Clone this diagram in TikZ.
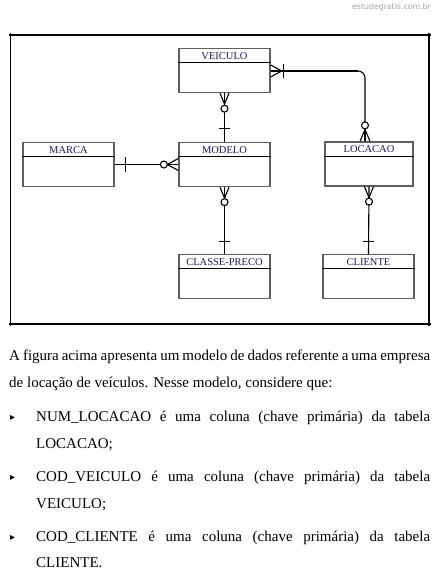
\documentclass[tikz,border=0pt]{standalone}
\usepackage{fontspec}
\setmainfont{Liberation Serif}
\newfontfamily\wmfont{DejaVu Sans}
\newfontfamily\symfont{DejaVu Sans}
\usetikzlibrary{calc}
\definecolor{boxgray}{RGB}{95,95,95}
\definecolor{lblblue}{RGB}{30,25,85}
\definecolor{wmgray}{RGB}{165,165,165}
\tikzset{
  entity/.style={draw=boxgray, line width=1.3pt, minimum width=91pt, minimum height=44pt, inner sep=0pt, fill=white},
  hdr/.style={draw=black, line width=0.8pt},
  lbl/.style={font=\fontsize{10.5}{11}\selectfont, text=lblblue, inner sep=0pt},
  rel/.style={draw=black, line width=1.1pt},
  ring/.style={draw=black, line width=1.1pt, fill=white},
  frameline/.style={draw=black, line width=1.1pt},
  body/.style={font=\fontsize{15}{17}\selectfont, inner sep=0pt, anchor=base west},
  bul/.style={font=\symfont\fontsize{10}{11}\selectfont, inner sep=0pt, anchor=base west},
}
\begin{document}
\begin{tikzpicture}[x=1pt,y=-1pt]
\useasboundingbox[fill=white] (0,0) rectangle (435,572);
% watermark
\node[font=\wmfont\fontsize{7.8}{9}\selectfont, text=wmgray, inner sep=0pt, anchor=base east] (wm) at (431,10) {estudegratis.com.br};
% frame
\coordinate (ftl) at (10.5,35);
\coordinate (ftr) at (429,35);
\coordinate (fbl) at (10.5,324);
\coordinate (fbr) at (429,324);
\draw[frameline] ($(ftl)+(-1.5,0)$) -- ($(ftr)+(1.5,0)$);
\draw[frameline] ($(fbl)+(-1.5,0)$) -- ($(fbr)+(1.5,0)$);
\draw[frameline] ($(ftl)+(0,-1.5)$) -- ($(fbl)+(0,1.5)$);
\draw[frameline] ($(ftr)+(0,-1.5)$) -- ($(fbr)+(0,1.5)$);
% entities
\node[entity] (veiculo) at (224.5,70.5) {};
\node[entity] (marca) at (68.5,164.5) {};
\node[entity] (modelo) at (224.5,164.5) {};
\node[entity, minimum width=88pt] (locacao) at (369,164) {};
\node[entity] (classe) at (224.5,276.5) {};
\node[entity] (cliente) at (368.5,276.5) {};
\foreach \n/\t in {veiculo/VEICULO,marca/MARCA,modelo/MODELO,locacao/LOCACAO,classe/CLASSE-PRECO,cliente/CLIENTE}{
  \draw[hdr] ([yshift=-15pt]\n.north west) -- ([yshift=-15pt]\n.north east);
  \node[lbl, anchor=base] (\n-t) at ([yshift=-11.5pt]\n.north) {\t};
}
% VEICULO - MODELO
\draw[rel] (veiculo.south) -- (modelo.north);
\draw[rel] ($(veiculo.south)+(-4.5,0)$) -- ($(veiculo.south)+(0,11)$) -- ($(veiculo.south)+(4.5,0)$);
\draw[ring] ($(veiculo.south)+(0,15.5)$) circle[radius=3.5pt];
\draw[rel] ($(modelo.north)+(-5.5,-13)$) -- ($(modelo.north)+(5.5,-13)$);
% MARCA - MODELO
\draw[rel] (marca.east) -- (modelo.west);
\draw[rel] ($(marca.east)+(11,-7)$) -- ($(marca.east)+(11,7)$);
\draw[rel] ($(modelo.west)+(0,-6)$) -- ($(modelo.west)+(-11,0)$) -- ($(modelo.west)+(0,6)$);
\draw[ring] ($(modelo.west)+(-14.5,0)$) circle[radius=3.5pt];
% MODELO - CLASSE-PRECO
\draw[rel] (modelo.south) -- (classe.north);
\draw[rel] ($(modelo.south)+(-4.5,0)$) -- ($(modelo.south)+(0,11)$) -- ($(modelo.south)+(4.5,0)$);
\draw[ring] ($(modelo.south)+(0,15)$) circle[radius=3.5pt];
\draw[rel] ($(classe.north)+(-5.5,-12)$) -- ($(classe.north)+(5.5,-12)$);
% LOCACAO - CLIENTE
\draw[rel] (locacao.south) -- (cliente.north);
\draw[rel] ($(locacao.south)+(-4.5,0)$) -- ($(locacao.south)+(0,11)$) -- ($(locacao.south)+(4.5,0)$);
\draw[ring] ($(locacao.south)+(0,15)$) circle[radius=3.5pt];
\draw[rel] ($(cliente.north)+(-5.5,-12)$) -- ($(cliente.north)+(5.5,-12)$);
% VEICULO - LOCACAO
\coordinate (lt) at ([xshift=-4pt]locacao.north);
\coordinate (vk) at ($(veiculo.east)+(0,0.5)$);
\coordinate (corner) at (vk -| lt);
\draw[rel, rounded corners=7pt] (vk) -- (corner) -- (lt);
\draw[black, line width=2.8pt] (vk) -- ($(corner)+(-7,0)$);
\draw[rel] ($(vk)+(0,-6)$) -- ($(vk)+(11,0)$) -- ($(vk)+(0,6)$);
\draw[rel] ($(vk)+(13,-7)$) -- ($(vk)+(13,7)$);
\draw[rel] ($(lt)+(-5,0)$) -- ($(lt)+(0,-12)$) -- ($(lt)+(5,0)$);
\draw[rel] (lt) -- ($(lt)+(0,-12)$);
\draw[ring] ($(lt)+(0,-16)$) circle[radius=3.5pt];
% body text
\node[body] (l1) at (9,360.5) {\spaceskip=1pt plus 20pt minus 1pt\makebox[421pt][s]{A figura acima apresenta um modelo de dados referente a uma empresa}};
\node[body] (l2) at (9,387) {de locação de veículos. Nesse modelo, considere que:};
\node[bul] (b1) at (10,420) {▸};
\node[body] (l3) at (36,421) {\makebox[394pt][s]{NUM\_LOCACAO é uma coluna (chave primária) da tabela}};
\node[body] (l4) at (36,448) {LOCACAO;};
\node[bul] (b2) at (10,480) {▸};
\node[body] (l5) at (36,481) {\makebox[394pt][s]{COD\_VEICULO é uma coluna (chave primária) da tabela}};
\node[body] (l6) at (36,508) {VEICULO;};
\node[bul] (b3) at (10,540) {▸};
\node[body] (l7) at (36,541) {\makebox[394pt][s]{COD\_CLIENTE é uma coluna (chave primária) da tabela}};
\node[body] (l8) at (36,567) {CLIENTE.};
\end{tikzpicture}
\end{document}
